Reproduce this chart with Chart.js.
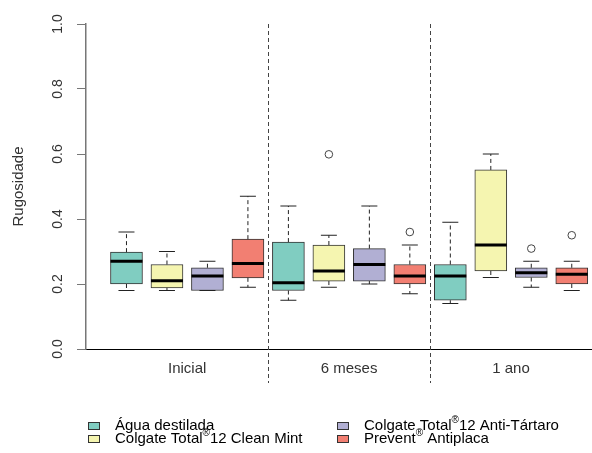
<!DOCTYPE html>
<html>
<head>
<meta charset="utf-8">
<script src="https://cdn.jsdelivr.net/npm/chart.js@4"></script>
<style>
  html, body { margin: 0; padding: 0; background: #fff; }
  #wrap { width: 592px; height: 453px; }
</style>
</head>
<body>
<div id="wrap"><canvas id="boxChart" width="592" height="453"></canvas></div>
<script>
// data ===========

const groups = ["Inicial", "6 meses", "1 ano"];
const treatments = [
  "Água destilada",
  "Colgate Total®12 Clean Mint",
  "Colgate Total®12 Anti-Tártaro",
  "Prevent® Antiplaca",
];
const colors = ["#80CDC1", "#F5F5B0", "#B1AFD3", "#F27F72"];

// one value per box, order: Inicial (4 pastes), 6 meses (4), 1 ano (4)
const whiskerLow = [0.18, 0.18, 0.18, 0.19, 0.15, 0.19, 0.20, 0.17, 0.14, 0.22, 0.19, 0.18];
const q1 = [0.20, 0.188, 0.18, 0.219, 0.18, 0.209, 0.209, 0.20, 0.15, 0.24, 0.22, 0.20];
const median = [0.27, 0.21, 0.225, 0.263, 0.204, 0.24, 0.26, 0.225, 0.225, 0.32, 0.235, 0.23];
const q3 = [0.298, 0.26, 0.25, 0.338, 0.329, 0.32, 0.309, 0.26, 0.26, 0.551, 0.25, 0.25];
const whiskerHigh = [0.36, 0.30, 0.27, 0.47, 0.44, 0.35, 0.44, 0.32, 0.39, 0.60, 0.27, 0.27];
// [box index, value]
const outliers = [[5, 0.599], [7, 0.36], [10, 0.309], [11, 0.35]];

const yTicks = [0, 0.2, 0.4, 0.6, 0.8, 1.0];
const separators = [4.5, 8.5];

// end data ===========

const boxPos = (i) => i + 1; // boxes sit at 1..12, 4 per group
const font = "'Liberation Sans', Arial, sans-serif";

const boxDatasets = treatments.map((name, t) => ({
  type: "bar",
  label: name,
  data: groups.map((g, gi) => {
    const i = gi * 4 + t;
    return { x: boxPos(i), y: [q1[i], q3[i]] };
  }),
  backgroundColor: colors[t],
  borderColor: "#333",
  borderWidth: 1,
  borderSkipped: false,
  barThickness: 32,
  grouped: false,
  order: 2,
}));

const outlierDataset = {
  type: "scatter",
  label: "outliers",
  data: outliers.map(([i, v]) => ({ x: boxPos(i), y: v })),
  pointStyle: "circle",
  pointRadius: 3.8,
  backgroundColor: "#fff",
  borderColor: "#444",
  borderWidth: 1,
  order: 1,
};

// whiskers, medians, separators, y labels, legend
const boxExtras = {
  id: "boxExtras",
  afterDatasetsDraw(chart) {
    const ctx = chart.ctx;
    const x = chart.scales.x;
    const y = chart.scales.y;
    const area = chart.chartArea;

    ctx.save();
    for (let i = 0; i < median.length; i++) {
      const px = x.getPixelForValue(boxPos(i));
      // dashed whiskers
      ctx.strokeStyle = "#222";
      ctx.lineWidth = 1;
      ctx.setLineDash([4, 3]);
      ctx.beginPath();
      ctx.moveTo(px, y.getPixelForValue(q3[i]));
      ctx.lineTo(px, y.getPixelForValue(whiskerHigh[i]));
      ctx.moveTo(px, y.getPixelForValue(q1[i]));
      ctx.lineTo(px, y.getPixelForValue(whiskerLow[i]));
      ctx.stroke();
      // caps
      ctx.setLineDash([]);
      ctx.beginPath();
      ctx.moveTo(px - 8, y.getPixelForValue(whiskerHigh[i]));
      ctx.lineTo(px + 8, y.getPixelForValue(whiskerHigh[i]));
      ctx.moveTo(px - 8, y.getPixelForValue(whiskerLow[i]));
      ctx.lineTo(px + 8, y.getPixelForValue(whiskerLow[i]));
      ctx.stroke();
      // median
      ctx.lineWidth = 3;
      ctx.strokeStyle = "#000";
      ctx.beginPath();
      ctx.moveTo(px - 16, y.getPixelForValue(median[i]));
      ctx.lineTo(px + 16, y.getPixelForValue(median[i]));
      ctx.stroke();
    }

    // group separators
    ctx.strokeStyle = "#444";
    ctx.lineWidth = 1;
    ctx.setLineDash([4, 3]);
    separators.forEach((s) => {
      const px = Math.round(x.getPixelForValue(s)) + 0.5;
      ctx.beginPath();
      ctx.moveTo(px, area.top);
      ctx.lineTo(px, area.bottom + 34);
      ctx.stroke();
    });
    ctx.setLineDash([]);

    // y tick labels, rotated like R
    ctx.fillStyle = "#333";
    ctx.font = "14px " + font;
    ctx.textAlign = "center";
    ctx.textBaseline = "middle";
    yTicks.forEach((v) => {
      ctx.save();
      ctx.translate(58, y.getPixelForValue(v));
      ctx.rotate(-Math.PI / 2);
      ctx.fillText(v.toFixed(1), 0, 0);
      ctx.restore();
    });

    // legend, two columns
    const cols = [88, 337];
    const rows = [426, 439];
    ctx.textAlign = "left";
    ctx.textBaseline = "middle";
    treatments.forEach((name, t) => {
      const lx = cols[t < 2 ? 0 : 1];
      const ly = rows[t % 2];
      ctx.fillStyle = colors[t];
      ctx.fillRect(lx, ly - 4, 12, 8);
      ctx.strokeStyle = "#333";
      ctx.lineWidth = 1;
      ctx.strokeRect(lx + 0.5, ly - 3.5, 11, 7);
      // split at ® to raise it
      ctx.fillStyle = "#000";
      const parts = name.split("®");
      let tx = lx + 27;
      parts.forEach((p, k) => {
        ctx.font = "15px " + font;
        ctx.fillText(p, tx, ly);
        tx += ctx.measureText(p).width;
        if (k < parts.length - 1) {
          ctx.font = "10px " + font;
          ctx.fillText("®", tx, ly - 6);
          tx += ctx.measureText("®").width;
        }
      });
    });
    ctx.restore();
  },
};

const boxChart = new Chart(document.getElementById("boxChart"), {
  data: { datasets: [...boxDatasets, outlierDataset] },
  options: {
    responsive: false,
    animation: false,
    layout: { autoPadding: false, padding: { top: 24, right: 0, left: 0, bottom: 0 } },
    plugins: { legend: { display: false }, tooltip: { enabled: false } },
    scales: {
      x: {
        type: "linear",
        min: 0,
        max: 12.5,
        offset: false,
        bounds: "ticks",
        afterBuildTicks: (axis) => {
          axis.ticks = groups.map((g, gi) => ({ value: gi * 4 + 2.5 }));
        },
        afterFit: (axis) => {
          axis.height = 104;
          axis.paddingLeft = 0;
          axis.paddingRight = 0;
        },
        ticks: {
          autoSkip: false,
          maxRotation: 0,
          padding: 11,
          color: "#333",
          font: { family: font, size: 15 },
          callback: (v, i) => groups[i],
        },
        grid: { display: false, drawTicks: false, offset: false },
        border: { color: "#000", width: 1 },
      },
      y: {
        min: 0,
        max: 1,
        afterBuildTicks: (axis) => {
          axis.ticks = yTicks.map((v) => ({ value: v }));
        },
        afterFit: (axis) => {
          axis.width = 86;
        },
        ticks: { display: false },
        grid: {
          drawOnChartArea: false,
          drawTicks: true,
          tickLength: 9,
          color: "#777",
        },
        border: { color: "#777", width: 1.5 },
        title: {
          display: true,
          text: "Rugosidade",
          color: "#333",
          font: { family: font, size: 15 },
          padding: { top: 10, bottom: 0 },
        },
      },
    },
  },
  plugins: [boxExtras],
});
</script>
</body>
</html>
